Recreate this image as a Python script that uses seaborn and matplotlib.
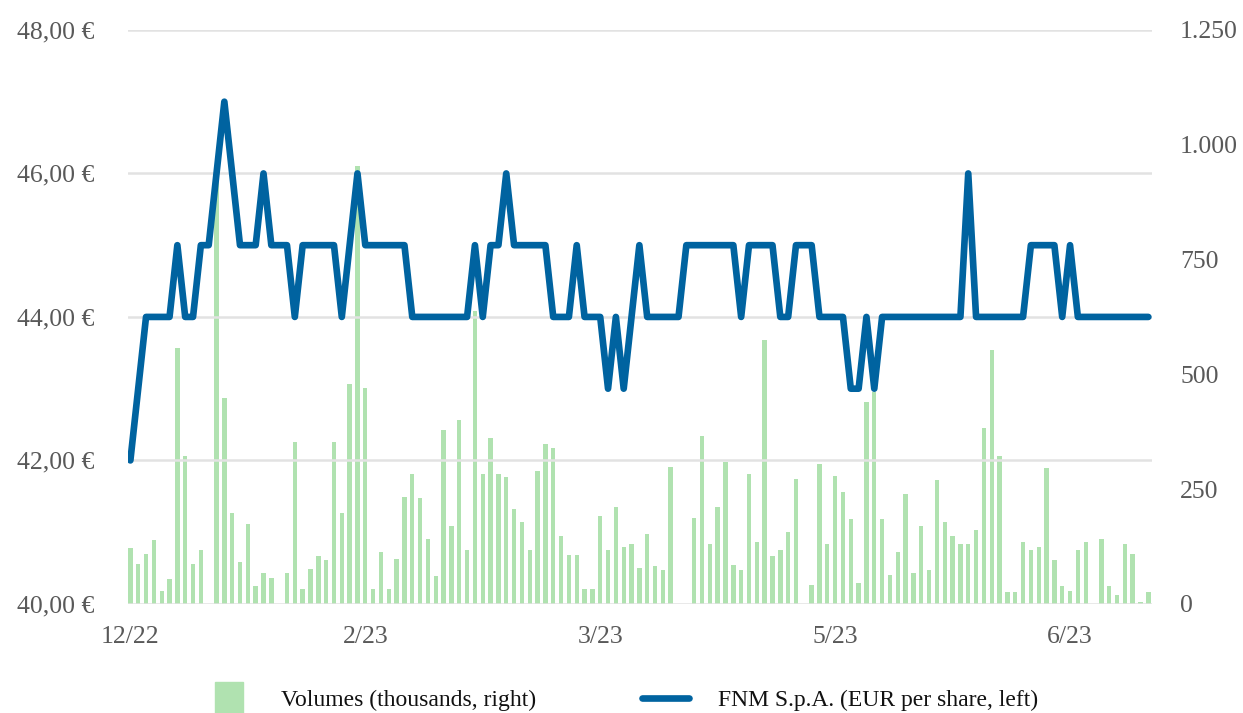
import matplotlib
matplotlib.use("Agg")
import matplotlib.pyplot as plt
import matplotlib.patches as mpatches
from matplotlib.lines import Line2D
from matplotlib.legend_handler import HandlerPatch
from matplotlib.ticker import FuncFormatter
import seaborn as sns
import pandas as pd

# Daily trading volumes (thousands of shares)
volumes = [122, 86, 108, 139, 28, 55, 558, 322, 86, 118,
           0, 940, 449, 197, 91, 174, 38, 68, 56, 0,
           68, 352, 33, 77, 104, 95, 352, 197, 479, 954,
           471, 33, 113, 33, 98, 233, 282, 230, 142, 60,
           379, 170, 401, 117, 637, 282, 361, 282, 277, 206,
           179, 117, 290, 348, 339, 148, 107, 107, 33, 33,
           191, 117, 212, 125, 130, 78, 152, 82, 73, 299,
           0, 0, 188, 365, 130, 212, 308, 85, 73, 282,
           135, 575, 104, 117, 157, 272, 0, 42, 304, 130,
           279, 243, 184, 46, 440, 462, 184, 63, 113, 239,
           68, 170, 73, 270, 179, 148, 130, 130, 160, 383,
           553, 322, 26, 26, 135, 117, 125, 295, 95, 38,
           29, 118, 135, 0, 142, 38, 20, 130, 108, 4,
           26]

# Closing price (EUR per share)
prices = [42, 43, 44, 44, 44, 44, 45, 44, 44, 45,
          45, 46, 47, 46, 45, 45, 45, 46, 45, 45,
          45, 44, 45, 45, 45, 45, 45, 44, 45, 46,
          45, 45, 45, 45, 45, 45, 44, 44, 44, 44,
          44, 44, 44, 44, 45, 44, 45, 45, 46, 45,
          45, 45, 45, 45, 44, 44, 44, 45, 44, 44,
          44, 43, 44, 43, 44, 45, 44, 44, 44, 44,
          44, 45, 45, 45, 45, 45, 45, 45, 44, 45,
          45, 45, 45, 44, 44, 45, 45, 45, 44, 44,
          44, 44, 43, 43, 44, 43, 44, 44, 44, 44,
          44, 44, 44, 44, 44, 44, 44, 46, 44, 44,
          44, 44, 44, 44, 44, 45, 45, 45, 45, 44,
          45, 44, 44, 44, 44, 44, 44, 44, 44, 44,
          44]

tick_days = [0, 30, 60, 90, 120]
tick_labels = ["12/22", "2/23", "3/23", "5/23", "6/23"]
price_ticks = [40, 42, 44, 46, 48]
volume_ticks = [0, 250, 500, 750, 1000, 1250]

df = pd.DataFrame({"day": range(len(prices)), "price": prices, "volume": volumes})

sns.set_theme(style="white")
plt.rcParams["font.family"] = ["Liberation Serif", "DejaVu Serif"]

BLUE = "#0063a0"
GREEN = "#b0e2b0"
TEXT = "#595959"
GRID = "#e2e2e2"

fig = plt.figure(figsize=(12.43, 7.13), dpi=100)
ax = fig.add_axes([0.103, 0.153, 0.824, 0.805])
ax2 = ax.twinx()

# volume bars on the right-hand scale
sns.barplot(data=df, x="day", y="volume", ax=ax2, color=GREEN, saturation=1,
            width=0.56, native_scale=True, linewidth=0)
# price line on the left-hand scale, drawn above the bars
sns.lineplot(data=df, x="day", y="price", ax=ax, color=BLUE, linewidth=4.8)
ax.set_zorder(ax2.get_zorder() + 1)
ax.patch.set_visible(False)

ax.set_xlim(-0.3, 130.5)
ax2.set_xlim(-0.3, 130.5)
ax.set_ylim(40, 48)
ax2.set_ylim(0, 1250)

ax.set_yticks(price_ticks)
ax.yaxis.set_major_formatter(FuncFormatter(lambda v, p: f"{v:.2f}".replace(".", ",") + " €"))
ax2.set_yticks(volume_ticks)
ax2.yaxis.set_major_formatter(FuncFormatter(lambda v, p: f"{int(v):,}".replace(",", ".")))
ax.set_xticks(tick_days)
ax.set_xticklabels(tick_labels)

ax.grid(axis="y", color=GRID, linewidth=1.8)
ax.grid(axis="x", visible=False)
ax2.grid(False)

for a in (ax, ax2):
    for s in a.spines.values():
        s.set_visible(False)
    a.set_xlabel("")
    a.set_ylabel("")
    a.tick_params(length=0, labelsize=18.5, labelcolor=TEXT)
ax.tick_params(axis="y", pad=24)
ax.tick_params(axis="x", pad=16)
ax2.tick_params(axis="y", pad=20)


def square_patch(legend, orig_handle, xdescent, ydescent, width, height, fontsize):
    side = height * 1.9
    return mpatches.Rectangle((-xdescent + width / 2 - side * 0.45, -ydescent + height / 2 - side / 2),
                              side * 0.9, side)


handles = [mpatches.Patch(color=GREEN, label="Volumes (thousands, right)"),
           Line2D([], [], color=BLUE, linewidth=4.8, label="FNM S.p.A. (EUR per share, left)")]
fig.legend(handles=handles, loc="center", bbox_to_anchor=(0.5, 0.018), ncol=2,
           frameon=False, fontsize=17, labelcolor="#111111", handlelength=2.0,
           handletextpad=1.2, columnspacing=4.5,
           handler_map={mpatches.Patch: HandlerPatch(patch_func=square_patch)})

fig.savefig("out.png", dpi=100)
